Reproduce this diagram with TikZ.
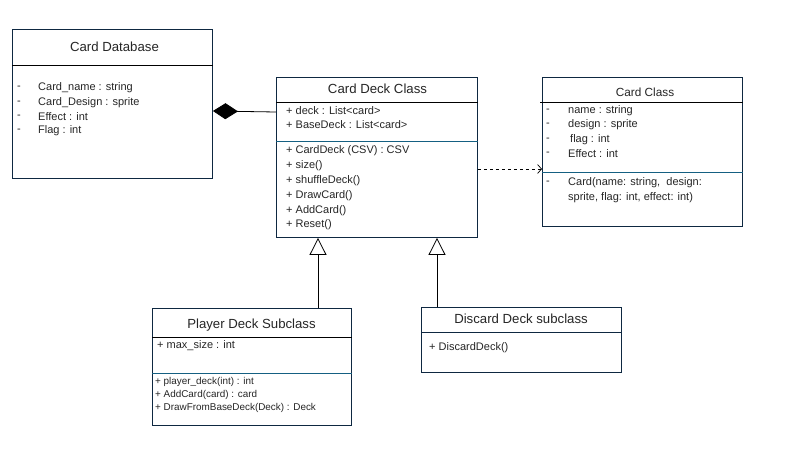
\documentclass[tikz,border=0pt]{standalone}
\usepackage{fontspec}
\setmainfont{Liberation Sans}
\usetikzlibrary{arrows.meta}
\definecolor{umlnavy}{HTML}{0E2841}
\definecolor{umlblue}{HTML}{156082}
\tikzset{
	classbox/.style={draw=umlnavy, line width=0.9pt, fill=white, anchor=north west, inner sep=0pt},
	classtitle/.style={font=\fontsize{13.2}{15}\selectfont, text=black!85, inner sep=0pt},
	attr/.style={font=\fontsize{11}{13}\selectfont, text=black!85, anchor=west, inner sep=0pt},
	smallattr/.style={font=\fontsize{9.9}{11}\selectfont, text=black!85, anchor=west, inner sep=0pt},
	titleline/.style={draw=black, line width=0.8pt},
	memberline/.style={draw=umlblue, line width=0.8pt},
	inherit/.style={line width=0.8pt, -{Triangle[open, length=17pt, width=17pt]}},
}

\begin{document}
\begin{tikzpicture}[x=1pt, y=-1pt]
			%%%%% START %%%%%
			\useasboundingbox[fill=white] (0,0) rectangle (798,450);
			
			% Card Database
			\node[classbox, minimum width=200pt, minimum height=149pt] (cardDb) at (12,29) {};
			\node[classtitle] (cardDbT) at (114.5,47) {Card Database};
			\draw[titleline] (cardDb.west |- 0,65) -- (cardDb.east |- 0,65);
			\node[attr] (dbD1) at (17,88) {-};
			\node[attr] (dbA1) at (38,88) {Card\_name : string};
			\node[attr] (dbD2) at (17,103) {-};
			\node[attr] (dbA2) at (38,103) {Card\_Design : sprite};
			\node[attr] (dbD3) at (17,117) {-};
			\node[attr] (dbA3) at (38,117) {Effect : int};
			\node[attr] (dbD4) at (17,131) {-};
			\node[attr] (dbA4) at (38,131) {Flag : int};
			
			% Card Deck Class
			\node[classbox, minimum width=201pt, minimum height=160pt] (deck) at (276,77) {};
			\node[classtitle] (deckT) at (377.5,89) {Card Deck Class};
			\draw[titleline] (deck.west |- 0,102) -- (deck.east |- 0,102);
			\node[attr] (deckA1) at (286,111) {+ deck : List<card>};
			\node[attr] (deckA2) at (286,125) {+ BaseDeck : List<card>};
			\draw[memberline] (deck.west |- 0,141) -- (deck.east |- 0,141);
			\node[attr] (deckM1) at (286,151) {+ CardDeck (CSV) : CSV};
			\node[attr] (deckM2) at (286,166) {+ size()};
			\node[attr] (deckM3) at (286,181) {+ shuffleDeck()};
			\node[attr] (deckM4) at (286,196) {+ DrawCard()};
			\node[attr] (deckM5) at (286,211) {+ AddCard()};
			\node[attr] (deckM6) at (286,225) {+ Reset()};
			
			% Card Class
			\node[classbox, minimum width=200pt, minimum height=149pt] (card) at (542,77) {};
			\node[classtitle, font=\fontsize{11.8}{13}\selectfont] (cardT) at (645,92) {Card Class};
			\draw[titleline] (540,102) -- (card.east |- 0,102);
			\node[attr] (cardD1) at (546,111) {-};
			\node[attr] (cardA1) at (568,111) {name : string};
			\node[attr] (cardD2) at (546,125) {-};
			\node[attr] (cardA2) at (568,125) {design : sprite};
			\node[attr] (cardD3) at (546,140) {-};
			\node[attr] (cardA3) at (570,140) {flag : int};
			\node[attr] (cardD4) at (546,154) {-};
			\node[attr] (cardA4) at (568,154) {Effect : int};
			\draw[memberline] (card.west |- 0,172) -- (card.east |- 0,172);
			\node[attr] (cardD5) at (546,183) {-};
			\node[attr] (cardM1) at (568,183) {Card(name: string,\ \ design:};
			\node[attr] (cardM2) at (568,198) {sprite, flag: int, effect: int)};
			
			% Player Deck Subclass
			\node[classbox, minimum width=199pt, minimum height=117pt] (player) at (152,308) {};
			\node[classtitle] (playerT) at (251.5,325) {Player Deck Subclass};
			\draw[titleline] (player.west |- 0,337) -- (player.east |- 0,337);
			\node[attr] (playerA1) at (157,346) {+ max\_size : int};
			\draw[memberline] (player.west |- 0,373) -- (player.east |- 0,373);
			\node[smallattr] (playerM1) at (155,382) {+ player\_deck(int) : int};
			\node[smallattr] (playerM2) at (155,395) {+ AddCard(card) : card};
			\node[smallattr] (playerM3) at (155,408) {+ DrawFromBaseDeck(Deck) : Deck};
			
			% Discard Deck subclass
			\node[classbox, minimum width=200pt, minimum height=65pt] (discard) at (421,307) {};
			\node[classtitle] (discardT) at (521,319) {Discard Deck subclass};
			\draw[draw=umlnavy, line width=0.8pt] (discard.west |- 0,332) -- (discard.east |- 0,332);
			\node[attr] (discardM1) at (429,348) {+ DiscardDeck()};
			
			% relations
			\draw[line width=0.8pt, -{Diamond[length=25pt, width=16pt]}] (deck.west |- 0,112) -- (cardDb.east |- 0,111);
			\draw[line width=0.7pt, dashed, -{Straight Barb[length=4pt, width=9pt]}] (deck.east |- 0,169) -- (card.west |- 0,169);
			
			\coordinate (playerLink) at (318,0);
			\coordinate (discardLink) at (437,0);
			\draw[inherit] (player.north -| playerLink) -- (deck.south -| playerLink);
			\draw[inherit] (discard.north -| discardLink) -- (deck.south -| discardLink);
			%%%%% END %%%%%
\end{tikzpicture}
\end{document}
